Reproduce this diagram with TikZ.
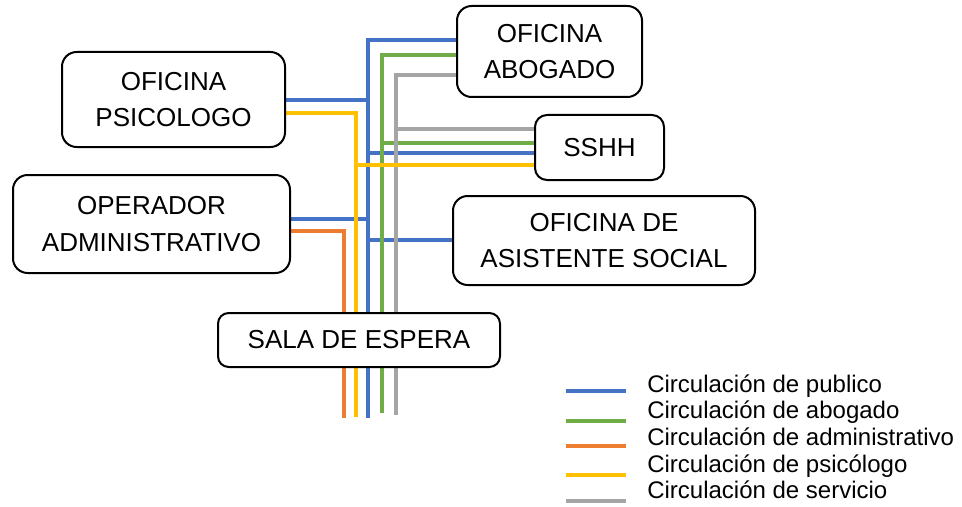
\documentclass[tikz,border=0pt]{standalone}
\usepackage{fontspec}
\setmainfont{Liberation Sans}
\usetikzlibrary{backgrounds}
\definecolor{cpub}{HTML}{4472C4}
\definecolor{cabo}{HTML}{70AD47}
\definecolor{cadm}{HTML}{ED7D31}
\definecolor{cpsi}{HTML}{FFC000}
\definecolor{cser}{HTML}{A5A5A5}
\begin{document}
\begin{tikzpicture}[x=0.75pt,y=-0.75pt,
  box/.style={draw=black, line width=1.5pt, rounded corners=11pt, fill=white,
    align=center, font=\fontsize{19.5}{27.5}\selectfont, inner sep=0pt},
  ln/.style={line width=2.3pt, line join=miter},
  pub/.style={ln, draw=cpub},
  abo/.style={ln, draw=cabo},
  adm/.style={ln, draw=cadm},
  psi/.style={ln, draw=cpsi},
  ser/.style={ln, draw=cser},
  legtext/.style={anchor=base west, inner sep=0pt, font=\fontsize{18}{20}\selectfont}]
\useasboundingbox (0,0) rectangle (962,506);

\node[box, minimum width=167.25pt, minimum height=71.25pt] (psic) at (173.5,99.5) {OFICINA\\PSICOLOGO};
\node[box, minimum width=207.75pt, minimum height=73.5pt] (oper) at (151.5,224) {OPERADOR\\ADMINISTRATIVO};
\node[box, minimum width=138.75pt, minimum height=68.25pt] (abog) at (549.5,51.5) {OFICINA\\ABOGADO};
\node[box, rounded corners=9pt, minimum width=96.75pt, minimum height=48.75pt] (sshh) at (599.5,147.5) {SSHH};
\node[box, minimum width=226.5pt, minimum height=66.75pt] (asis) at (604,240.5) {OFICINA DE\\ASISTENTE SOCIAL};
\node[box, rounded corners=8pt, minimum width=211.5pt, minimum height=40.5pt] (sala) at (359,340) {SALA DE ESPERA};

\coordinate (endadm) at (344,418);
\coordinate (endpsi) at (356,417);
\coordinate (endpub) at (368,418);
\coordinate (endabo) at (382,413);
\coordinate (endser) at (396,415);

\begin{scope}[on background layer]
  \fill[white] (0,0) rectangle (962,506);
  % publico
  \draw[pub] (psic.east |- 0,100) -- (368,100);
  \draw[pub] (oper.east |- 0,219) -- (368,219);
  \draw[pub] (368,153) -- (sshh.west |- 0,153);
  \draw[pub] (368,240) -- (asis.west |- 0,240);
  \draw[pub] (abog.west |- 0,40) -- (368,40) -- (endpub);
  % abogado
  \draw[abo] (382,143) -- (sshh.west |- 0,143);
  \draw[abo] (abog.west |- 0,55) -- (382,55) -- (endabo);
  % servicio
  \draw[ser] (396,129) -- (sshh.west |- 0,129);
  \draw[ser] (abog.west |- 0,75) -- (396,75) -- (endser);
  % psicologo
  \draw[psi] (356,165) -- (sshh.west |- 0,165);
  \draw[psi] (psic.east |- 0,113) -- (356,113) -- (endpsi);
  % administrativo
  \draw[adm] (oper.east |- 0,231) -- (344,231) -- (endadm);
\end{scope}

% legend
\coordinate (l1a) at (566,391); \coordinate (l1b) at (626,391);
\coordinate (l2a) at (566,421); \coordinate (l2b) at (626,421);
\coordinate (l3a) at (566,446); \coordinate (l3b) at (626,446);
\coordinate (l4a) at (566,475); \coordinate (l4b) at (626,475);
\coordinate (l5a) at (566,501); \coordinate (l5b) at (626,501);
\draw[pub] (l1a) -- (l1b);
\draw[abo] (l2a) -- (l2b);
\draw[adm] (l3a) -- (l3b);
\draw[psi] (l4a) -- (l4b);
\draw[ser] (l5a) -- (l5b);
\node[legtext] (t1) at (647,392) {Circulación de publico};
\node[legtext] (t2) at (647,418.5) {Circulación de abogado};
\node[legtext] (t3) at (647,445.5) {Circulación de administrativo};
\node[legtext] (t4) at (647,472) {Circulación de psicólogo};
\node[legtext] (t5) at (647,498.5) {Circulación de servicio};
\end{tikzpicture}
\end{document}
